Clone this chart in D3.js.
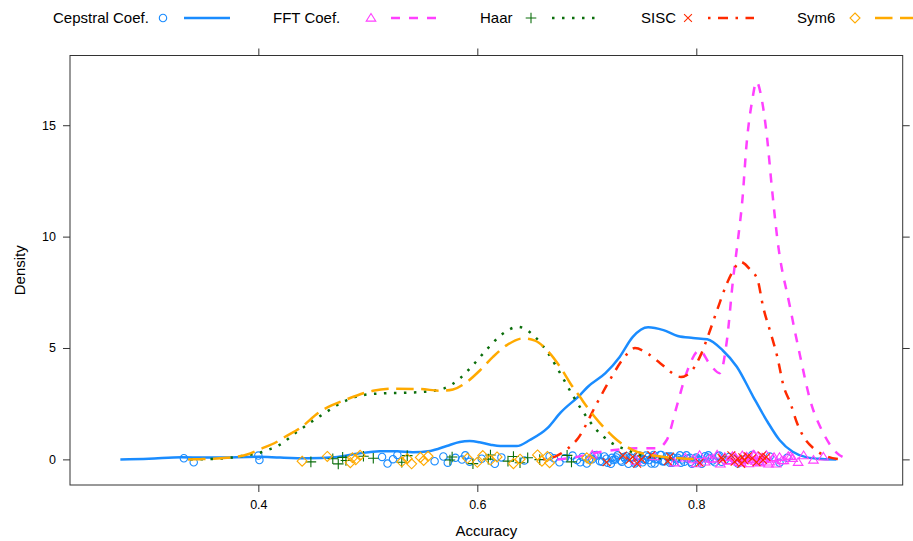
<!DOCTYPE html>
<html><head><meta charset="utf-8">
<script src="https://cdn.jsdelivr.net/npm/d3@7"></script>
<style>
body{margin:0;background:#fff}
text{font-family:"Liberation Sans",Arial,Helvetica,sans-serif;fill:#000}
</style>
</head><body>
<svg id="chart" width="913" height="541"></svg>
<script>
// ---------- data ----------
const seriesNames = ["Cepstral Coef.", "FFT Coef.", "Haar", "SISC", "Sym6"];
const xTicks = [0.4, 0.6, 0.8];
const yTicks = [0, 5, 10, 15];
const xLabel = "Accuracy";
const yLabel = "Density";

const cepstralCurve = [[0.274,0],[0.30,0.03],[0.33,0.1],[0.36,0.08],[0.40,0.12],[0.42,0.08],[0.445,0.05],[0.47,0.1],[0.49,0.25],[0.511,0.37],[0.527,0.36],[0.541,0.32],[0.557,0.38],[0.572,0.6],[0.584,0.78],[0.593,0.82],[0.602,0.77],[0.612,0.66],[0.621,0.6],[0.636,0.6],[0.648,0.87],[0.664,1.4],[0.676,2.1],[0.694,2.9],[0.701,3.26],[0.717,3.87],[0.73,4.6],[0.742,5.5],[0.756,5.93],[0.77,5.8],[0.783,5.54],[0.797,5.45],[0.81,5.39],[0.824,4.9],[0.837,4.16],[0.852,2.81],[0.865,1.69],[0.876,0.87],[0.888,0.34],[0.901,0.09],[0.915,0.02],[0.928,0]];
const fftCurve = [[0.673,0],[0.69,0.1],[0.706,0.28],[0.725,0.42],[0.746,0.5],[0.764,0.5],[0.773,0.87],[0.782,2.36],[0.791,3.87],[0.803,4.9],[0.812,4.3],[0.8215,3.87],[0.828,5.36],[0.8335,8.05],[0.838,9.85],[0.842,11.6],[0.846,14.2],[0.851,16.1],[0.855,16.95],[0.86,16.1],[0.8645,14.5],[0.869,12.2],[0.874,9.9],[0.8855,6.86],[0.895,4.6],[0.904,2.66],[0.916,1.18],[0.9285,0.28],[0.938,0.03]];
const haarCurve = [[0.338,0],[0.358,0.02],[0.376,0.08],[0.385,0.15],[0.4016,0.3],[0.4107,0.46],[0.4198,0.66],[0.4335,1.17],[0.4563,1.94],[0.481,2.66],[0.4974,2.9],[0.5157,2.97],[0.534,2.99],[0.5522,3.04],[0.5687,3.17],[0.5842,3.64],[0.596,4.23],[0.6089,4.95],[0.6226,5.62],[0.6372,5.95],[0.6527,5.5],[0.6646,4.77],[0.6783,3.64],[0.6874,2.85],[0.6965,2.14],[0.7075,1.4],[0.7212,0.79],[0.7367,0.42],[0.755,0.12],[0.785,0]];
const siscCurve = [[0.66,0],[0.672,0.15],[0.683,0.5],[0.692,0.95],[0.709,2.5],[0.721,3.56],[0.733,4.5],[0.744,5.0],[0.755,4.77],[0.767,4.32],[0.786,3.7],[0.795,3.93],[0.804,4.68],[0.811,5.58],[0.819,6.7],[0.828,7.9],[0.834,8.5],[0.84,8.87],[0.8495,8.5],[0.856,8.05],[0.861,6.85],[0.868,5.66],[0.874,4.6],[0.8795,3.33],[0.886,2.52],[0.892,1.63],[0.898,1.01],[0.907,0.5],[0.92,0.12],[0.932,0]];
const sym6Curve = [[0.3358,0],[0.3467,0.01],[0.3714,0.07],[0.3897,0.22],[0.4016,0.46],[0.417,0.79],[0.4226,0.96],[0.438,1.4],[0.4563,2.14],[0.481,2.7],[0.5047,3.08],[0.523,3.17],[0.5477,3.16],[0.566,3.08],[0.5778,3.14],[0.5906,3.48],[0.6025,4.0],[0.6143,4.6],[0.627,5.13],[0.6417,5.43],[0.6527,5.33],[0.6637,4.9],[0.6755,4.16],[0.6847,3.43],[0.6937,2.81],[0.7001,2.36],[0.712,1.63],[0.7275,0.87],[0.742,0.42],[0.764,0.15],[0.785,0.05],[0.803,0]];

const cepstralPoints = [0.332,0.341,0.400,0.401,0.513,0.518,0.523,0.527,0.561,0.569,0.573,0.580,0.586,0.589,0.593,0.604,0.616,0.622,0.643,0.666,0.670,0.675,0.687,0.691,0.696,0.700,0.705,0.709,0.712,0.716,0.719,0.723,0.726,0.728,0.732,0.735,0.738,0.740,0.743,0.746,0.749,0.751,0.754,0.757,0.760,0.762,0.765,0.768,0.771,0.773,0.776,0.779,0.782,0.785,0.789,0.792,0.796,0.800,0.803,0.808,0.812,0.817,0.821,0.826,0.830,0.838,0.844,0.851,0.858,0.867,0.876,0.883,0.702,0.707,0.714,0.718,0.722,0.727,0.731,0.736,0.741,0.745,0.748,0.753,0.756,0.759,0.763,0.767,0.770,0.775,0.778,0.783,0.787,0.791,0.795,0.799,0.805,0.810,0.815,0.820,0.680,0.694,0.710,0.724,0.734,0.744,0.752,0.761,0.769,0.777,0.786,0.794,0.802,0.811,0.823,0.834];
const fftPoints = [0.705,0.745,0.762,0.780,0.790,0.797,0.803,0.808,0.815,0.822,0.826,0.830,0.833,0.836,0.839,0.842,0.844,0.846,0.848,0.850,0.852,0.854,0.856,0.858,0.860,0.862,0.864,0.867,0.870,0.873,0.876,0.880,0.884,0.888,0.893,0.898,0.907,0.916,0.800,0.812,0.819,0.829,0.835,0.841,0.845,0.849,0.853,0.857,0.861,0.866,0.871,0.878,0.886];
const haarPoints = [0.448,0.468,0.473,0.477,0.480,0.496,0.505,0.531,0.536,0.575,0.577,0.596,0.610,0.612,0.628,0.633,0.639,0.646,0.657,0.682,0.686];
const siscPoints = [0.718,0.733,0.739,0.742,0.746,0.750,0.759,0.774,0.776,0.803,0.823,0.824,0.832,0.835,0.838,0.841,0.842,0.844,0.847,0.851,0.855,0.860,0.861,0.864];
const sym6Points = [0.440,0.463,0.484,0.486,0.489,0.493,0.531,0.536,0.540,0.548,0.551,0.555,0.591,0.600,0.605,0.612,0.618,0.633,0.639,0.655,0.659,0.664,0.666,0.700,0.703];

// vertical jitter offsets of the rug points (density units), cycled
const jitterPattern = [0.05,-0.13,0.17,-0.03,0.11,-0.19,0.01,0.20,-0.08,0.13,-0.15,0.07,-0.01,0.18,-0.11,0.03,-0.20,0.09,-0.05,0.14];

// ---------- styling ----------
const colors = ["#1a8cff", "#ff40ff", "#0b6e0b", "#ff2a00", "#ffaa00"];
const dashes = ["none", "9,9", "2.5,7.5", "2.5,7.5,10,7.5", "17.5,7.5"];
const curves = [cepstralCurve, fftCurve, haarCurve, siscCurve, sym6Curve];
const pointsList = [cepstralPoints, fftPoints, haarPoints, siscPoints, sym6Points];

const symCircle = {draw(c, r){ c.moveTo(r,0); c.arc(0,0,r,0,2*Math.PI); }};
const symTriangle = {draw(c, r){ const h = r*Math.sqrt(3)/2; c.moveTo(0,-r*0.95); c.lineTo(r,h*0.75); c.lineTo(-r,h*0.75); c.closePath(); }};
const symPlus = {draw(c, r){ c.moveTo(-r,0); c.lineTo(r,0); c.moveTo(0,-r); c.lineTo(0,r); }};
const symTimes = {draw(c, r){ c.moveTo(-r,-r); c.lineTo(r,r); c.moveTo(-r,r); c.lineTo(r,-r); }};
const symDiamond = {draw(c, r){ c.moveTo(0,-r); c.lineTo(r,0); c.lineTo(0,r); c.lineTo(-r,0); c.closePath(); }};
const symbols = [[symCircle,3.7],[symTriangle,4.8],[symPlus,5.3],[symTimes,3.9],[symDiamond,5]];

const svg = d3.select("#chart");
const L = 70, R = 902.7, T = 55.5, B = 485;
const x = d3.scaleLinear().domain([0.228, 0.9885]).range([L, R]);
const y = d3.scaleLinear().domain([-1.15, 18.13]).range([B, T]);

// axes
function styleAxis(g){
  g.select(".domain").remove();
  g.selectAll(".tick line").attr("stroke","#333").attr("stroke-width",1);
  g.selectAll(".tick text").style("font-size","12.5px").attr("fill","#000")
    .style("font-family",'"Liberation Sans",Arial,Helvetica,sans-serif');
}
svg.append("g").attr("transform",`translate(0,${B})`)
  .call(d3.axisBottom(x).tickValues(xTicks).tickSize(7).tickPadding(8).tickFormat(d3.format(".1f"))).call(styleAxis);
svg.append("g").attr("transform",`translate(0,${T})`)
  .call(d3.axisTop(x).tickValues(xTicks).tickSize(7).tickFormat("")).call(styleAxis);
svg.append("g").attr("transform",`translate(${L},0)`)
  .call(d3.axisLeft(y).tickValues(yTicks).tickSize(7).tickPadding(7)).call(styleAxis);
svg.append("g").attr("transform",`translate(${R},0)`)
  .call(d3.axisRight(y).tickValues(yTicks).tickSize(7).tickFormat("")).call(styleAxis);

svg.append("rect").attr("x",L).attr("y",T).attr("width",R-L).attr("height",B-T)
  .attr("fill","none").attr("stroke","#333").attr("stroke-width",1);

// axis titles
svg.append("text").attr("x",(L+R)/2).attr("y",536).attr("text-anchor","middle")
  .style("font-size","15px").text(xLabel);
svg.append("text").attr("transform",`translate(25,${(T+B)/2}) rotate(-90)`).attr("text-anchor","middle")
  .style("font-size","15px").text(yLabel);

// plot
const plot = svg.append("g");
const line = d3.line().x(d=>x(d[0])).y(d=>y(d[1])).curve(d3.curveMonotoneX);
seriesNames.forEach((name,i)=>{
  const [type,size] = symbols[i];
  const sym = d3.symbol().type(type).size(size);
  plot.append("g").selectAll("path").data(pointsList[i]).join("path")
    .attr("transform",(d,k)=>`translate(${x(d)},${y(jitterPattern[(k + i*7) % jitterPattern.length])})`)
    .attr("d", sym).attr("fill","none").attr("stroke",colors[i]).attr("stroke-width",1.1);
  plot.append("path").datum(curves[i]).attr("d",line)
    .attr("fill","none").attr("stroke",colors[i]).attr("stroke-width",2.5)
    .attr("stroke-dasharray",dashes[i]);
});

// legend
const legText = [53, 273, 480, 641, 797];
const legSym = [163, 371, 531, 688, 855];
const legLine = [184, 391, 552, 708, 875];
const legY = 18;
const leg = svg.append("g");
seriesNames.forEach((name,i)=>{
  leg.append("text").attr("x",legText[i]).attr("y",legY).attr("dy","0.35em")
    .style("font-size","15px").text(name);
  const [type,size] = symbols[i];
  leg.append("path").attr("transform",`translate(${legSym[i]},${legY})`)
    .attr("d", d3.symbol().type(type).size(size)).attr("fill","none")
    .attr("stroke",colors[i]).attr("stroke-width",1.1);
  leg.append("line").attr("x1",legLine[i]).attr("x2",legLine[i]+46).attr("y1",legY).attr("y2",legY)
    .attr("stroke",colors[i]).attr("stroke-width",2.5).attr("stroke-dasharray",dashes[i]);
});
</script>
</body></html>
